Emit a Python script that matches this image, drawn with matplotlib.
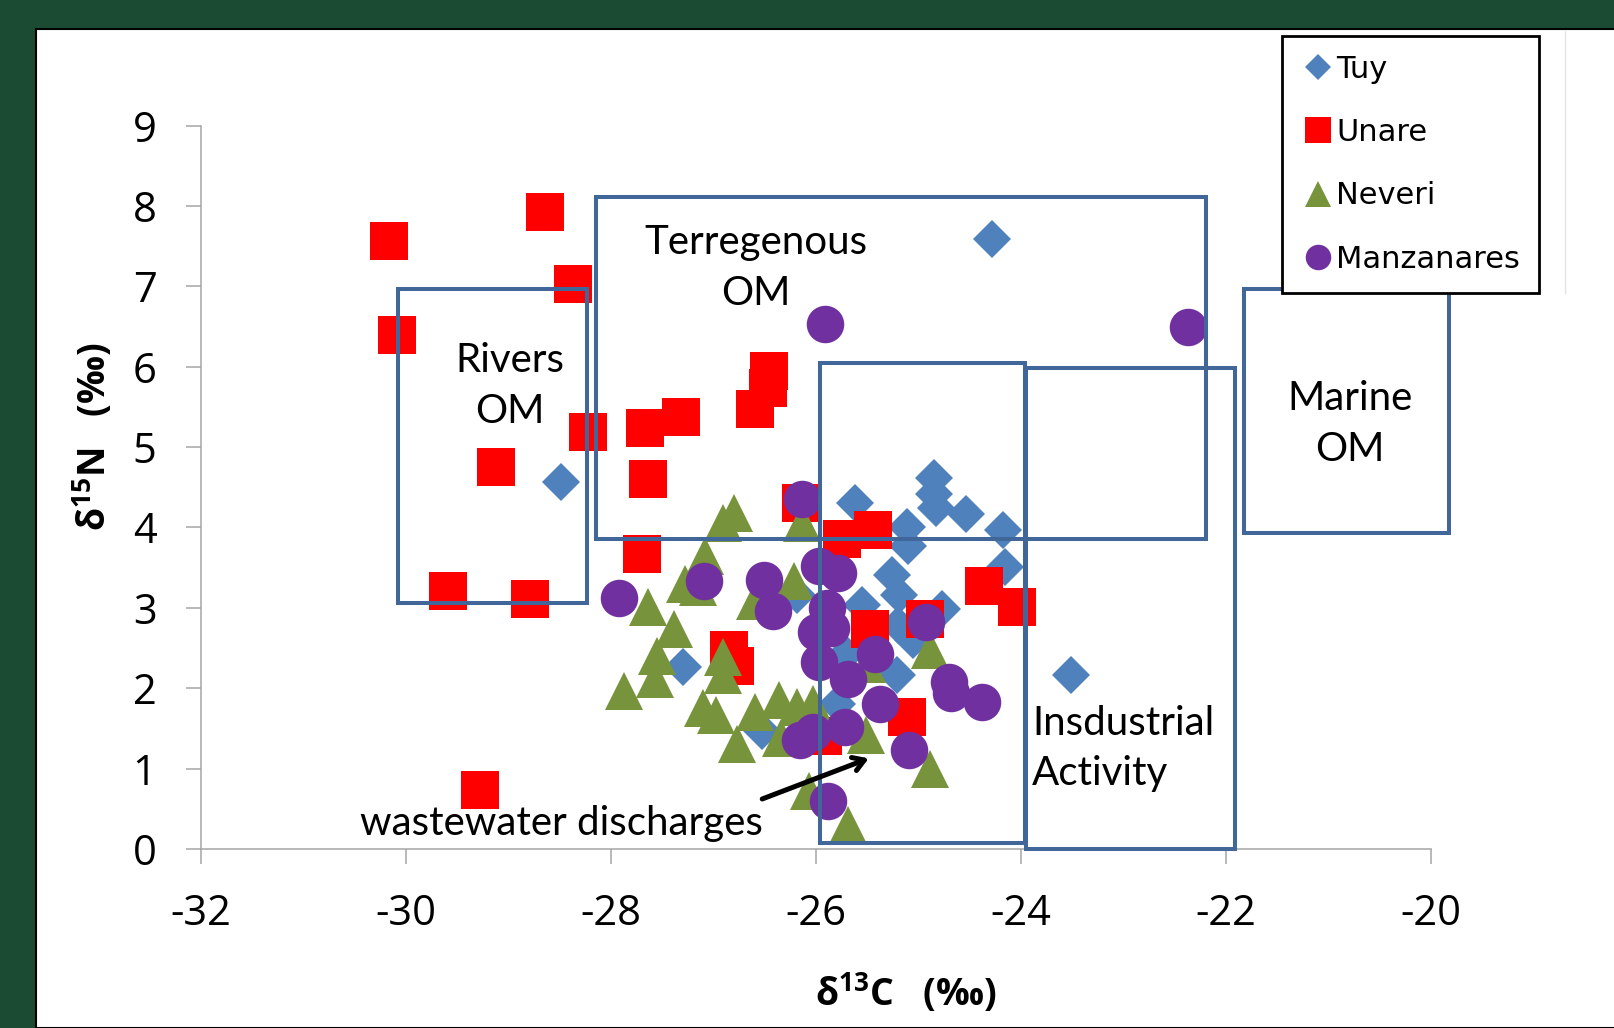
import matplotlib
matplotlib.use("Agg")
import matplotlib.pyplot as plt
from matplotlib.patches import Rectangle
from matplotlib.lines import Line2D

plt.rcParams["axes.unicode_minus"] = False
plt.rcParams["mathtext.fontset"] = "custom"
plt.rcParams["mathtext.rm"] = "Open Sans:bold"
plt.rcParams["mathtext.bf"] = "Open Sans:bold"
plt.rcParams["mathtext.it"] = "Open Sans:italic:bold"

# d13C / d15N values per river
tuy_x = [-24.28, -28.49, -24.85, -24.85, -24.83, -24.54, -25.62, -24.18, -25.11, -25.10,
         -24.16, -25.26, -25.19, -25.55, -24.77, -25.20, -25.05, -25.21, -25.80, -26.53,
         -23.51, -27.30, -26.19, -25.71]
tuy_y = [7.59, 4.56, 4.62, 4.42, 4.24, 4.17, 4.31, 3.97, 4.00, 3.77,
         3.51, 3.41, 3.16, 3.03, 2.99, 2.79, 2.60, 2.17, 1.80, 1.47,
         2.17, 2.27, 3.16, 2.43]

unare_x = [-30.17, -28.64, -28.37, -30.09, -28.22, -27.67, -27.32, -26.46, -26.47, -26.60,
           -29.12, -27.64, -27.70, -29.59, -28.79, -29.28, -26.15, -25.75, -25.44, -26.85,
           -26.79, -25.47, -24.94, -24.36, -24.04, -25.11, -25.93]
unare_y = [7.57, 7.93, 7.03, 6.40, 5.19, 5.24, 5.37, 5.95, 5.74, 5.48,
           4.75, 4.60, 3.67, 3.21, 3.11, 0.73, 4.31, 3.86, 3.97, 2.48,
           2.28, 2.74, 2.86, 3.27, 3.01, 1.64, 1.40]

neveri_x = [-26.80, -26.91, -26.14, -27.08, -27.28, -27.15, -26.21, -26.60, -27.64, -27.39,
            -27.55, -27.57, -27.87, -26.91, -26.91, -27.10, -26.98, -26.77, -26.60, -26.36,
            -26.19, -26.03, -26.34, -26.07, -24.89, -25.51, -24.89, -25.69, -25.50]
neveri_y = [4.18, 4.05, 4.05, 3.64, 3.30, 3.26, 3.33, 3.08, 3.01, 2.74,
            2.40, 2.12, 1.96, 2.39, 2.16, 1.75, 1.67, 1.31, 1.71, 1.85,
            1.77, 1.80, 1.38, 0.72, 2.47, 1.42, 1.00, 0.30, 2.30]

manz_x = [-25.91, -22.37, -26.14, -27.92, -27.09, -26.51, -26.42, -25.97, -25.79, -25.89,
          -26.00, -25.85, -25.97, -25.42, -25.69, -25.38, -24.93, -24.70, -24.68, -24.38,
          -25.72, -26.03, -26.16, -25.09, -25.88]
manz_y = [6.53, 6.49, 4.35, 3.12, 3.33, 3.35, 2.96, 3.52, 3.43, 3.00,
          2.70, 2.75, 2.33, 2.43, 2.12, 1.81, 2.83, 2.08, 1.94, 1.83,
          1.52, 1.46, 1.36, 1.23, 0.60]

# source regions: (x0, y0, x1, y1)
regions = [(-30.08, 3.06, -28.23, 6.97),
           (-28.15, 3.86, -22.20, 8.11),
           (-25.96, 0.08, -23.96, 6.05),
           (-23.95, 0.00, -21.91, 5.99),
           (-21.82, 3.93, -19.82, 6.97)]

box_color = "#40669A"
text_font = "Lato"
text_size = 29

fig = plt.figure(figsize=(16.14, 10.28), dpi=100, facecolor="#1B4B33")
fig.patches.append(Rectangle((36 / 1614, 0), 1, 1 - 29 / 1028, transform=fig.transFigure,
                             facecolor="white", edgecolor="black", linewidth=1.5, zorder=-10))
fig.lines.append(Line2D([1565 / 1614, 1565 / 1614], [1 - 31 / 1028, 1 - 293 / 1028],
                        transform=fig.transFigure, color="#E4E4E4", linewidth=1, zorder=-5))

ax = fig.add_axes([201 / 1614, 1 - 849 / 1028, 1230 / 1614, 723.4 / 1028])
ax.set_facecolor("none")
ax.set_zorder(1)

ax.plot(tuy_x, tuy_y, "D", color="#4F81BD", markersize=19.4, markeredgewidth=0, label="Tuy", zorder=2)
ax.plot(unare_x, unare_y, "s", color="#FF0000", markersize=27.5, markeredgewidth=0, label="Unare", zorder=3)
ax.plot(neveri_x, neveri_y, "^", color="#77933C", markersize=28, markeredgewidth=0, label="Neveri", zorder=4)
ax.plot(manz_x, manz_y, "o", color="#7030A0", markersize=27, markeredgewidth=0, label="Manzanares", zorder=5)

for x0, y0, x1, y1 in regions:
    ax.add_patch(Rectangle((x0, y0), x1 - x0, y1 - y0, fill=False, edgecolor=box_color,
                           linewidth=2.9, clip_on=False, zorder=6))

ax.text(-26.59, 7.23, "Terregenous\nOM", ha="center", va="center", fontsize=text_size,
        family=text_font, linespacing=1.45, zorder=7)
ax.text(-28.99, 5.76, "Rivers\nOM", ha="center", va="center", fontsize=text_size,
        family=text_font, linespacing=1.45, zorder=7)
ax.text(-20.79, 5.29, "Marine\nOM", ha="center", va="center", fontsize=text_size,
        family=text_font, linespacing=1.45, zorder=7)
ax.text(-23.89, 1.25, "Insdustrial\nActivity", ha="left", va="center", fontsize=text_size,
        family=text_font, linespacing=1.45, zorder=7)
ax.text(-30.45, 0.17, "wastewater discharges", ha="left", va="baseline", fontsize=text_size,
        family=text_font, zorder=7)
ax.annotate("", xy=(-25.46, 1.14), xytext=(-26.55, 0.61),
            arrowprops=dict(arrowstyle="->,head_length=0.8,head_width=0.5",
                            color="black", lw=3.6), zorder=8)

ax.set_xlim(-32, -20)
ax.set_ylim(0, 9)
ax.set_xticks(range(-32, -19, 2))
ax.set_yticks(range(0, 10))
for side in ("top", "right"):
    ax.spines[side].set_visible(False)
for side in ("left", "bottom"):
    ax.spines[side].set_color("#A6A6A6")
    ax.spines[side].set_linewidth(1.1)
ax.tick_params(direction="out", length=11, width=1.1, color="#A6A6A6", pad=21,
               labelsize=30, labelcolor="black")
for lab in ax.get_xticklabels() + ax.get_yticklabels():
    lab.set_family("Open Sans")

fig.text(906 / 1614, 1 - 993 / 1028, r"δ$^{13}$C   $\mathit{(‰)}$",
         ha="center", va="center", fontsize=27, fontweight="bold", family="Open Sans")
fig.text(93 / 1614, 1 - 437 / 1028, r"δ$^{15}$N   $\mathit{(‰)}$", rotation=90,
         ha="center", va="center", fontsize=27, fontweight="bold", family="Open Sans")

leg = fig.legend(loc="upper left", bbox_to_anchor=(1282 / 1614, 1 - 36 / 1028),
                 bbox_transform=fig.transFigure, markerscale=0.68, fancybox=False,
                 framealpha=1, edgecolor="black", borderaxespad=0, borderpad=0.62,
                 labelspacing=1.12, handlelength=1.1, handletextpad=0.05,
                 prop={"family": "DejaVu Sans", "size": 22})
leg.get_frame().set_linewidth(2)
leg.set_zorder(10)

fig.savefig("out.png", dpi=100, facecolor=fig.get_facecolor())
